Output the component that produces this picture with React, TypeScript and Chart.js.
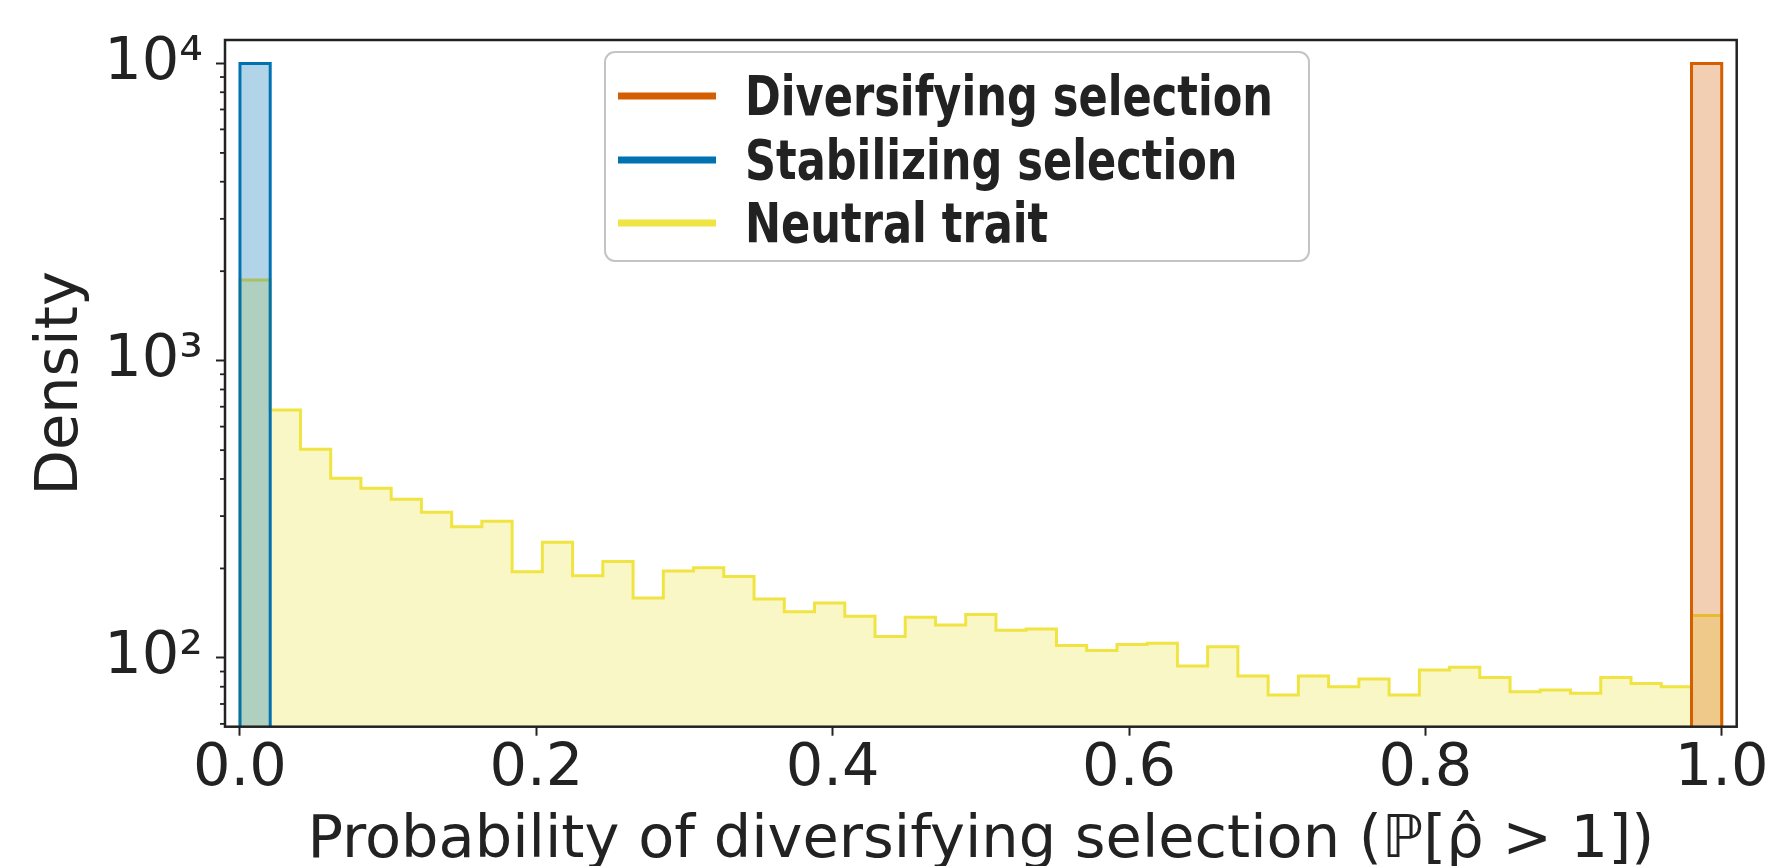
import React, { useEffect, useRef } from 'react';
import { Chart, registerables } from 'chart.js';

Chart.register(...registerables);

// ---- Data (histogram counts per bin, 49 equal bins on [0, 1]) ----
const BIN_COUNT = 49;
const BIN_EDGES = Array.from({ length: BIN_COUNT + 1 }, (_, k) => k / BIN_COUNT);

const DIVERSIFYING = [
  0, 0, 0, 0, 0, 0, 0, 0, 0, 0, 0, 0, 0, 0, 0, 0, 0, 0, 0, 0, 0, 0, 0, 0, 0,
  0, 0, 0, 0, 0, 0, 0, 0, 0, 0, 0, 0, 0, 0, 0, 0, 0, 0, 0, 0, 0, 0, 0, 10000,
];
const STABILIZING = [
  10000, 0, 0, 0, 0, 0, 0, 0, 0, 0, 0, 0, 0, 0, 0, 0, 0, 0, 0, 0, 0, 0, 0, 0, 0,
  0, 0, 0, 0, 0, 0, 0, 0, 0, 0, 0, 0, 0, 0, 0, 0, 0, 0, 0, 0, 0, 0, 0, 0,
];
const NEUTRAL = [
  1868, 682, 504, 402, 372, 342, 309, 276, 288, 195, 245, 189, 211, 159, 196,
  201, 188, 158, 143, 153, 138, 118, 137, 129, 140, 124, 125, 110, 106, 111,
  112, 94, 109, 87, 75, 87, 80, 85, 75, 91, 93, 86, 77, 78, 76, 86, 82, 80, 139,
];

const SERIES_LABELS = ['Diversifying selection', 'Stabilizing selection', 'Neutral trait'];
const SERIES_COLORS = ['#D55E00', '#0072B2', '#F0E442'];
const SERIES_FILLS = ['rgba(213,94,0,0.3)', 'rgba(0,114,178,0.3)', 'rgba(240,228,66,0.3)'];

const X_TICKS = [0, 0.2, 0.4, 0.6, 0.8, 1.0];
const Y_TICKS = [
  60, 70, 80, 90, 100, 200, 300, 400, 500, 600, 700, 800, 900,
  1000, 2000, 3000, 4000, 5000, 6000, 7000, 8000, 9000, 10000,
];
const Y_TICK_LABELS: Record<number, string> = { 100: '10²', 1000: '10³', 10000: '10⁴' };

const X_TITLE = 'Probability of diversifying selection (ℙ[ρ̂ > 1])';
const Y_TITLE = 'Density';

const FLOOR = 1; // below the visible axis minimum

function isMajor(v: number) {
  return Y_TICK_LABELS[v] !== undefined;
}

function stepPoints(values: number[]) {
  const pts: { x: number; y: number }[] = [{ x: BIN_EDGES[0], y: FLOOR }];
  values.forEach((v, k) => pts.push({ x: BIN_EDGES[k], y: v > 0 ? v : FLOOR }));
  const last = values[values.length - 1];
  pts.push({ x: BIN_EDGES[BIN_COUNT], y: last > 0 ? last : FLOOR });
  pts.push({ x: BIN_EDGES[BIN_COUNT], y: FLOOR });
  return pts;
}

const TEXT = '#222222';
const FONT_FAMILY = '"DejaVu Sans", sans-serif';

const decorPlugin = {
  id: 'decor',
  afterDraw(chart: any) {
    const { ctx, chartArea: a, scales } = chart;
    ctx.save();
    // full axes frame
    ctx.strokeStyle = TEXT;
    ctx.lineWidth = 2.5;
    ctx.strokeRect(a.left, a.top, a.right - a.left, a.bottom - a.top);
    // minor ticks on log axis
    ctx.lineWidth = 1.8;
    Y_TICKS.filter((v) => !isMajor(v)).forEach((v) => {
      const y = scales.y.getPixelForValue(v);
      ctx.beginPath();
      ctx.moveTo(a.left - 5, y);
      ctx.lineTo(a.left, y);
      ctx.stroke();
    });

    // legend
    const bx = a.left + 380;
    const by = a.top + 12;
    const bw = 704;
    const bh = 209;
    ctx.beginPath();
    ctx.roundRect(bx, by, bw, bh, 10);
    ctx.fillStyle = 'rgba(255,255,255,0.8)';
    ctx.fill();
    ctx.strokeStyle = '#c4c4c4';
    ctx.lineWidth = 2;
    ctx.stroke();

    const rows = [44, 108, 171];
    ctx.font = 'bold 55px "Liberation Sans Narrow", "DejaVu Sans Condensed", sans-serif';
    const w0 = ctx.measureText(SERIES_LABELS[0]).width;
    const sx = 528 / w0;
    SERIES_LABELS.forEach((label, i) => {
      const cy = by + rows[i];
      ctx.strokeStyle = SERIES_COLORS[i];
      ctx.lineWidth = 7;
      ctx.beginPath();
      ctx.moveTo(bx + 13, cy);
      ctx.lineTo(bx + 111, cy);
      ctx.stroke();
      ctx.save();
      ctx.translate(bx + 140, cy + 19);
      ctx.scale(sx, 1);
      ctx.fillStyle = TEXT;
      ctx.textBaseline = 'alphabetic';
      ctx.textAlign = 'left';
      ctx.fillText(label, 0, 0);
      ctx.restore();
    });
    ctx.restore();
  },
};

export default function App() {
  const ref = useRef<HTMLCanvasElement | null>(null);

  useEffect(() => {
    if (!ref.current) return;
    const seriesValues = [DIVERSIFYING, STABILIZING, NEUTRAL];
    const chart = new Chart(ref.current, {
      type: 'line',
      data: {
        datasets: SERIES_LABELS.map((label, i) => ({
          label,
          data: stepPoints(seriesValues[i]),
          borderColor: SERIES_COLORS[i],
          backgroundColor: SERIES_FILLS[i],
          borderWidth: 3,
          fill: 'start',
          stepped: 'before',
          pointRadius: 0,
          tension: 0,
        })),
      },
      options: {
        animation: false,
        responsive: false,
        devicePixelRatio: 1,
        layout: { padding: { top: 40, right: 29.3, left: 0, bottom: 0 } },
        plugins: {
          legend: { display: false },
          tooltip: { enabled: false },
        },
        scales: {
          x: {
            type: 'linear',
            min: -0.0101,
            max: 1.0101,
            afterBuildTicks: (s: any) => {
              s.ticks = X_TICKS.map((v) => ({ value: v }));
            },
            afterFit: (s: any) => {
              s.height = 139.3;
              s.paddingLeft = 0;
              s.paddingRight = 0;
            },
            ticks: {
              autoSkip: false,
              maxRotation: 0,
              padding: 4,
              color: TEXT,
              font: { family: FONT_FAMILY, size: 59, lineHeight: 1 },
              callback: (v: any) => Number(v).toFixed(1),
            },
            grid: {
              display: true,
              drawOnChartArea: false,
              drawTicks: true,
              tickLength: 9,
              tickColor: TEXT,
              tickWidth: 2,
            },
            border: { display: false },
            title: {
              display: true,
              text: X_TITLE,
              color: TEXT,
              font: { family: FONT_FAMILY, size: 59, lineHeight: 1 },
              padding: { top: 0, bottom: -5.5 },
            },
          },
          y: {
            type: 'logarithmic',
            min: 58.7,
            max: 11990,
            afterBuildTicks: (s: any) => {
              s.ticks = Y_TICKS.map((v) => ({ value: v }));
            },
            afterFit: (s: any) => {
              s.width = 225;
              s.paddingTop = 0;
              s.paddingBottom = 0;
            },
            ticks: {
              autoSkip: false,
              padding: 13,
              color: TEXT,
              font: { family: FONT_FAMILY, size: 59, lineHeight: 1 },
              callback: (v: any) => Y_TICK_LABELS[Number(v)] ?? '',
            },
            grid: {
              display: true,
              drawOnChartArea: false,
              drawTicks: true,
              tickLength: 9,
              tickColor: (c: any) => (c.tick && isMajor(c.tick.value) ? TEXT : 'rgba(0,0,0,0)'),
              tickWidth: 2,
            },
            border: { display: false },
            title: {
              display: true,
              text: Y_TITLE,
              color: TEXT,
              font: { family: FONT_FAMILY, size: 59, lineHeight: 1 },
              padding: { top: 32, bottom: 0 },
            },
          },
        },
      },
      plugins: [decorPlugin],
    } as any);
    return () => chart.destroy();
  }, []);

  return (
    <div
      style={{
        position: 'fixed',
        left: 0,
        top: 0,
        width: 1766,
        height: 866,
        background: '#ffffff',
        overflow: 'hidden',
      }}
    >
      <canvas ref={ref} width={1766} height={866} style={{ width: 1766, height: 866, display: 'block' }} />
    </div>
  );
}
